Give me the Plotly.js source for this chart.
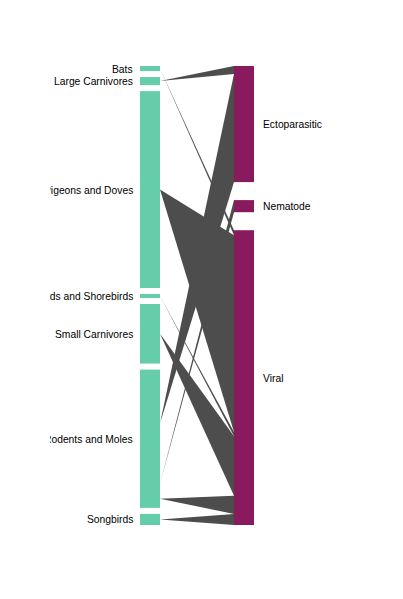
<!DOCTYPE html>
<html><head><meta charset="utf-8">
<script src="https://cdn.plot.ly/plotly-3.0.1.min.js"></script>
<style>
html,body{margin:0;padding:0;background:#fff;}
#chart{width:403px;height:599px;clip-path:inset(0 0 0 50px);}
</style>
</head><body><div id="chart"></div>
<script>
// Nodes: hosts (left) and parasite types (right)
const nodeLabels = ["Bats","Large Carnivores","Pigeons and Doves","Seabirds and Shorebirds","Small Carnivores","Rodents and Moles","Songbirds","Ectoparasitic","Nematode","Viral"];
const nodeColumn = [0, 0, 0, 0, 0, 0, 0, 1, 1, 1];
const nodeColors = ["#66cdaa","#66cdaa","#66cdaa","#66cdaa","#66cdaa","#66cdaa","#66cdaa","#891a5e","#891a5e","#891a5e"];
// Links (host -> parasite type)
const linkSource = [0, 1, 2, 3, 4, 5, 5, 5, 6];
const linkTarget = [9, 7, 9, 9, 9, 7, 8, 9, 9];
const linkValue  = [5, 8, 195, 4, 59, 107, 12, 18, 11];

const W = 403, H = 599;
const domX = [140 / W, 254 / W], domY = [1 - 525 / H, 1 - 66 / H];
const PAD = 6, THICK = 20;
const extW = (domX[1] - domX[0]) * W, extH = (domY[1] - domY[0]) * H;

// node totals from links
const nodeValue = nodeLabels.map((_, i) => {
  let s = 0, t = 0;
  linkSource.forEach((src, k) => { if (src === i) s += linkValue[k]; });
  linkTarget.forEach((tg, k) => { if (tg === i) t += linkValue[k]; });
  return Math.max(s, t);
});
// same scale as the sankey layout (tightest column); other columns spread evenly
const cols = [0, 1].map(c => nodeLabels.map((_, i) => i).filter(i => nodeColumn[i] === c));
const ky = Math.min(...cols.map(ids => (extH - (ids.length - 1) * PAD) / ids.reduce((a, i) => a + nodeValue[i], 0)));
const nodeX = new Array(nodeLabels.length), nodeY = new Array(nodeLabels.length);
cols.forEach((ids, c) => {
  const used = ids.reduce((a, i) => a + nodeValue[i] * ky, 0);
  const gap = ids.length > 1 ? (extH - used) / (ids.length - 1) : 0;
  let y = 0;
  ids.forEach(i => {
    const h = nodeValue[i] * ky;
    nodeY[i] = (y + h / 2) / extH;
    nodeX[i] = c === 0 ? (THICK / 2) / extW : 1 - (THICK / 2) / extW;
    y += h + gap;
  });
});

const trace = {
  type: 'sankey',
  orientation: 'h',
  arrangement: 'fixed',
  domain: {x: domX, y: domY},
  node: {
    label: nodeLabels.map(() => ''),
    color: nodeColors,
    x: nodeX, y: nodeY,
    pad: PAD,
    thickness: THICK,
    line: {width: 0}
  },
  link: {
    source: linkSource,
    target: linkTarget,
    value: linkValue,
    color: 'rgb(77,77,77)',
    line: {width: 0}
  }
};
const layout = {
  width: W, height: H,
  margin: {l: 0, r: 0, t: 0, b: 0},
  paper_bgcolor: '#fff',
  showlegend: false,
  font: {family: 'Liberation Sans, Arial, sans-serif', size: 10, color: '#000'}
};

// links are drawn as wedges: a point at the source side, the full band at the target side
function wedgeLinks(gd) {
  gd.querySelectorAll('.sankey-link').forEach(p => {
    const d = p.__data__;
    if (!d || !d.link) return;
    const L = d.link;
    const x0 = L.source.x1, x1 = L.target.x0, w = L.width;
    p.setAttribute('d', 'M' + x0 + ',' + L.y0 + 'L' + x1 + ',' + (L.y1 - w / 2) + 'L' + x1 + ',' + (L.y1 + w / 2) + 'Z');
  });
}

Plotly.newPlot('chart', [trace], layout, {staticPlot: true, displayModeBar: false}).then(gd => {
  const box = gd.getBoundingClientRect();
  const anns = [];
  gd.querySelectorAll('.sankey-node').forEach((el, idx) => {
    const d = el.__data__;
    let i = idx;
    if (d && d.node && typeof d.node.pointNumber === 'number') i = d.node.pointNumber;
    const r = el.querySelector('.node-rect').getBoundingClientRect();
    const cy = (r.top + r.bottom) / 2 - box.top;
    const isLeft = (r.left + r.right) / 2 - box.left < W / 2;
    anns.push({
      text: nodeLabels[i],
      xref: 'paper', yref: 'paper',
      x: isLeft ? (r.left - box.left - 5.5) / W : (r.right - box.left + 7) / W,
      y: 1 - (cy + 0.5) / H,
      xanchor: isLeft ? 'right' : 'left',
      yanchor: 'middle',
      showarrow: false,
      font: {family: 'Liberation Sans, Arial, sans-serif', size: 10.3, color: '#000'}
    });
  });
  return Plotly.relayout(gd, {annotations: anns});
}).then(gd => { wedgeLinks(gd || document.getElementById('chart')); });
</script>
</body></html>
